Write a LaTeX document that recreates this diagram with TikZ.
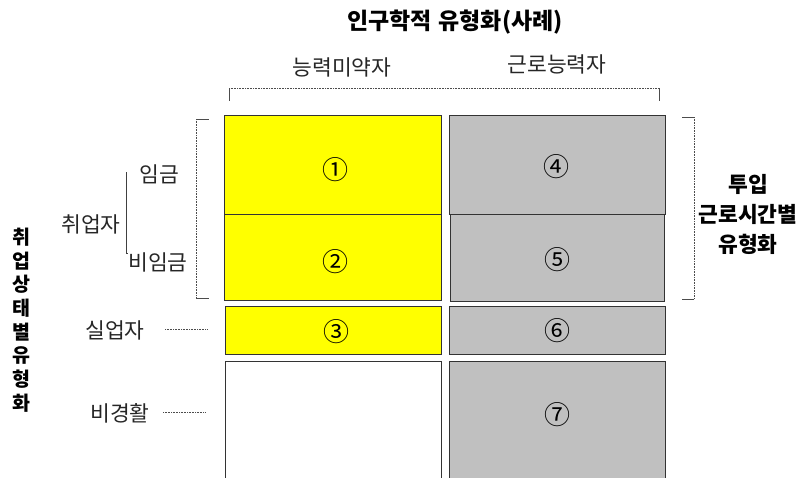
\documentclass[tikz,border=0pt]{standalone}
\usepackage{fontspec}
\setmainfont{Noto Sans CJK KR}
\begin{document}
\begin{tikzpicture}[x=1pt,y=-1pt,
  cell/.style={draw=black!80, line width=0.8pt, anchor=north west, inner sep=0pt},
  yel/.style={cell, fill={rgb,255:red,255;green,255;blue,0}},
  gry/.style={cell, fill={rgb,255:red,192;green,192;blue,192}},
  wht/.style={cell, fill=white},
  num/.style={font=\fontsize{26}{28}\selectfont, inner sep=0pt},
  lab/.style={font=\fontsize{21.5}{24}\selectfont, inner sep=0pt, text=black!85},
  blab/.style={font=\fontsize{21.5}{30}\bfseries\selectfont, inner sep=0pt, align=center},
  dotl/.style={densely dotted, line width=0.6pt, black!70},
  tick/.style={line width=0.7pt, black!70}]
\useasboundingbox (0,0) rectangle (800,477);
\clip (0,0) rectangle (800,477);

% boxes
\node[yel, minimum width=217pt, minimum height=99pt] (b1) at (224,115) {};
\node[yel, minimum width=217pt, minimum height=86pt] (b2) at (224,214) {};
\node[yel, minimum width=216pt, minimum height=48pt] (b3) at (225,306) {};
\node[wht, minimum width=216pt, minimum height=130pt] (b8) at (225,361) {};
\node[gry, minimum width=216pt, minimum height=99pt] (b4) at (449,115) {};
\node[gry, minimum width=214pt, minimum height=87pt] (b5) at (450,214) {};
\node[gry, minimum width=216pt, minimum height=48pt] (b6) at (449,306) {};
\node[gry, minimum width=216pt, minimum height=130pt] (b7) at (449,361) {};

\node[num] (n1) at (335,170) {①};
\node[num] (n2) at (335,262) {②};
\node[num] (n3) at (336,332) {③};
\node[num] (n4) at (556,167) {④};
\node[num] (n5) at (557,260) {⑤};
\node[num] (n6) at (557,331) {⑥};
\node[num] (n7) at (557,415) {⑦};

% top titles
\node[blab, font=\fontsize{23}{26}\bfseries\selectfont] (title) at (455,22) {인구학적\hspace{0.3em}유형화(사례)};
\node[lab] (c1) at (342,67) {능력미약자};
\node[lab] (c2) at (557,64) {근로능력자};

% top bracket
\coordinate (tl) at (229,88);
\coordinate (tr) at (659,88);
\draw[dotl] (tl) -- (tr);
\draw[tick] (tl) -- ++(0,13);
\draw[tick] (tr) -- ++(0,13);

% left bracket
\coordinate (lt) at (196,119);
\coordinate (lb) at (196,298);
\draw[dotl] (lt) -- (lb);
\draw[tick] (lt) -- ++(13,0);
\draw[tick] (lb) -- ++(13,0);

% right bracket
\coordinate (rt) at (694,117);
\coordinate (rb) at (694,299);
\draw[dotl] (rt) -- (rb);
\draw[tick] (rt) -- ++(-12,0);
\draw[tick] (rb) -- ++(-12,0);

% right label
\node[blab] (rl) at (748,214) {투입\\근로시간별\\유형화};

% left vertical label
\node[blab, font=\fontsize{19.5}{23.7}\bfseries\selectfont] (vl) at (21,320) {취\\업\\상\\태\\별\\유\\형\\화};

% employment tree
\node[lab] (emp) at (91,224) {취업자};
\node[lab] (wage) at (159,174) {임금};
\node[lab] (nwage) at (158,262) {비임금};
\coordinate (tt) at (126,172);
\coordinate (tb) at (126,253);
\draw[line width=0.8pt, black!75] (tt) -- (tb) -- ++(2,0);

\node[lab] (unemp) at (115,330) {실업자};
\node[lab] (inact) at (120,413) {비경활};
\coordinate (u1) at (165,329);
\coordinate (u2) at (207,329);
\coordinate (i1) at (163,412);
\coordinate (i2) at (206,412);
\draw[dotl] (u1) -- (u2);
\draw[dotl] (i1) -- (i2);
\end{tikzpicture}
\end{document}
